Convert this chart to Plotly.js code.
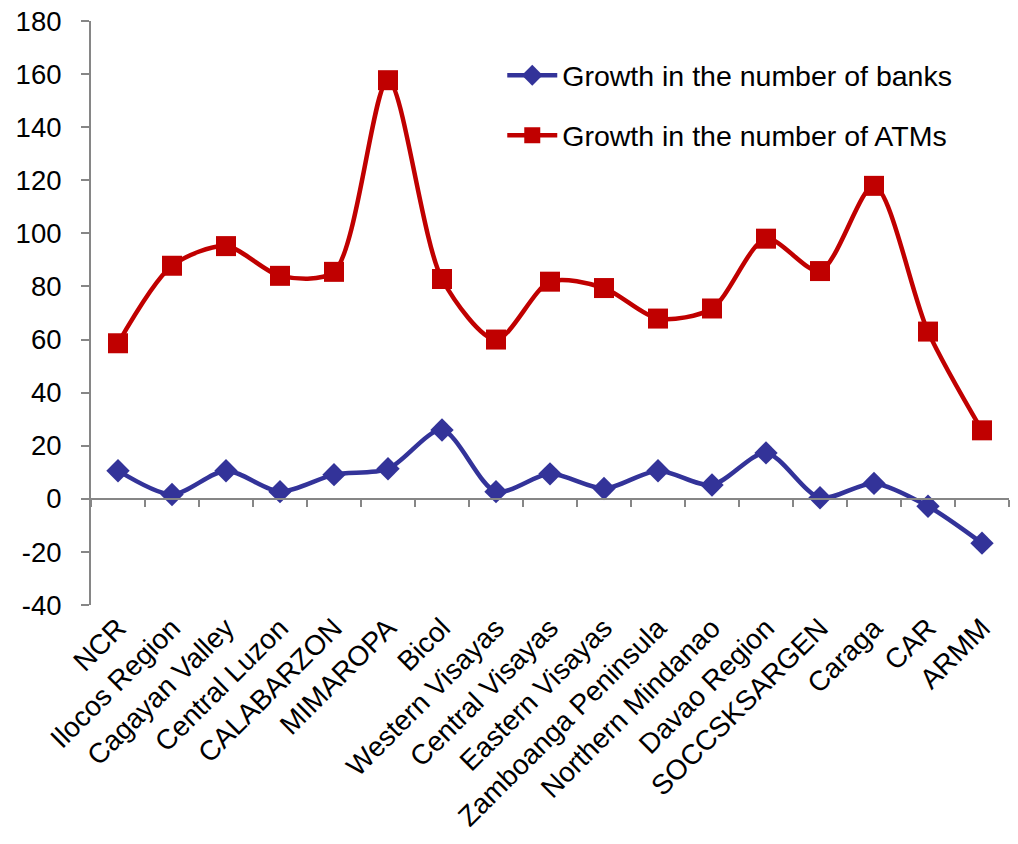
<!DOCTYPE html>
<html>
<head>
<meta charset="utf-8">
<script src="https://cdn.plot.ly/plotly-3.0.1.min.js"></script>
<style>
  html, body { margin: 0; padding: 0; background: #ffffff; }
  #chart { width: 1018px; height: 844px; }
</style>
</head>
<body>
<div id="chart"></div>
<script>
// Regions of the Philippines
const regions = [
  "NCR", "Ilocos Region", "Cagayan Valley", "Central Luzon", "CALABARZON",
  "MIMAROPA", "Bicol", "Western Visayas", "Central Visayas", "Eastern Visayas",
  "Zamboanga Peninsula", "Northern Mindanao", "Davao Region", "SOCCSKSARGEN",
  "Caraga", "CAR", "ARMM"
];

// Growth in the number of banks, by region
const bankGrowth = [
  10.6, 1.6, 10.6, 2.7, 9.1, 11.3, 25.9, 2.7, 9.4, 3.9,
  10.6, 5.2, 17.3, 0.4, 5.8, -2.8, -16.7
];

// Growth in the number of ATMs, by region
const atmGrowth = [
  58.6, 87.8, 95.2, 84.0, 85.5, 157.7, 82.8, 60.0, 81.8, 79.4,
  67.9, 71.7, 98.0, 85.8, 117.9, 63.0, 25.8
];

const yTicks = [-40, -20, 0, 20, 40, 60, 80, 100, 120, 140, 160, 180];

const FONT = "Liberation Sans, Arial, sans-serif";
const AXIS_GREY = "#868686";
const catRange = [-0.5, regions.length - 0.5];

const traces = [
  {
    x: regions, y: bankGrowth,
    name: "Growth in the number of banks",
    type: "scatter", mode: "lines+markers",
    line: { color: "#333399", width: 4.5, shape: "spline", smoothing: 0.8 },
    marker: { symbol: "diamond", size: 18, color: "#333399" },
    legendgroup: "banks"
  },
  {
    x: regions, y: atmGrowth,
    name: "Growth in the number of ATMs",
    type: "scatter", mode: "lines+markers",
    line: { color: "#C00000", width: 4.5, shape: "spline", smoothing: 0.8 },
    marker: { symbol: "square", size: 20, color: "#C00000" },
    legendgroup: "atms"
  },
  // carries the category ticks along the zero line
  {
    x: regions, y: bankGrowth,
    xaxis: "x2", type: "scatter", mode: "markers",
    marker: { opacity: 0 }, hoverinfo: "skip", showlegend: false
  }
];

const layout = {
  width: 1018, height: 844,
  margin: { l: 91, r: 9, t: 21, b: 239 },
  paper_bgcolor: "#ffffff", plot_bgcolor: "#ffffff",
  font: { family: FONT, size: 28, color: "#000000" },
  showlegend: true,
  legend: {
    x: 0.448, y: 0.95, xanchor: "left", yanchor: "top",
    bgcolor: "rgba(0,0,0,0)",
    font: { family: FONT, size: 28.5, color: "#000000" },
    traceorder: "grouped", tracegroupgap: 20,
    itemwidth: 50
  },
  xaxis: {
    type: "category", range: catRange,
    showline: false, showgrid: false, zeroline: false,
    ticks: "", tickangle: -45,
    tickfont: { family: FONT, size: 28, color: "#000000" }
  },
  xaxis2: {
    type: "category", range: catRange,
    overlaying: "x", anchor: "free", position: 40 / 220,
    showline: true, linecolor: AXIS_GREY, linewidth: 2,
    ticks: "outside", tickson: "boundaries", ticklen: 7,
    tickcolor: AXIS_GREY, tickwidth: 2,
    showticklabels: false, showgrid: false
  },
  yaxis: {
    range: [-40, 180], tickvals: yTicks, ticktext: yTicks.map(String),
    showline: true, linecolor: AXIS_GREY, linewidth: 2,
    ticks: "outside", ticklen: 8, tickcolor: AXIS_GREY, tickwidth: 2,
    showgrid: false, zeroline: false,
    tickfont: { family: FONT, size: 27.5, color: "#000000" },
    ticklabelstandoff: 14
  }
};

Plotly.newPlot("chart", traces, layout, { displayModeBar: false, staticPlot: true });
</script>
</body>
</html>
